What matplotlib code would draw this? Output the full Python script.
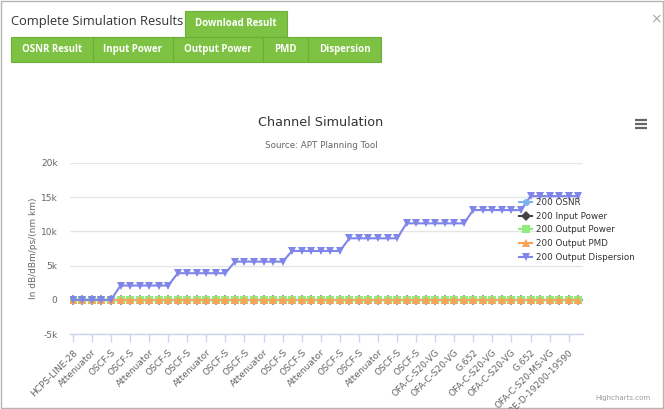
import matplotlib
matplotlib.use("Agg")
import matplotlib.pyplot as plt
from matplotlib.patches import Rectangle

W, H = 664, 409

# ---------------- data ----------------
tick_labels = ["HCPS-LINE-28", "Attenuator", "OSCF-S", "OSCF-S", "Attenuator", "OSCF-S", "OSCF-S",
               "Attenuator", "OSCF-S", "OSCF-S", "Attenuator", "OSCF-S", "OSCF-S", "Attenuator",
               "OSCF-S", "OSCF-S", "Attenuator", "OSCF-S", "OSCF-S", "OFA-C-S20-VG", "OFA-C-S20-VG",
               "G.652", "OFA-C-S20-VG", "OFA-C-S20-VG", "G.652", "OFA-C-S20-MS-VG",
               "OADM40E-D-19200-19590"]

dispersion = [0, 0, 0, 0, 0,
              2085, 2085, 2085, 2085, 2085, 2085,
              3890, 3890, 3890, 3890, 3890, 3890,
              5580, 5580, 5580, 5580, 5580, 5580,
              7140, 7140, 7140, 7140, 7140, 7140,
              8990, 8990, 8990, 8990, 8990, 8990,
              11180, 11180, 11180, 11180, 11180, 11180, 11180,
              13120, 13120, 13120, 13120, 13120, 13120,
              15160, 15160, 15160, 15160, 15160, 15160]
n_points = len(dispersion)
osnr = [0] * n_points
input_power = [0] * n_points
output_power = [0] * n_points
output_pmd = [0] * n_points

series_names = ["200 OSNR", "200 Input Power", "200 Output Power", "200 Output PMD", "200 Output Dispersion"]
colors = ["#7cb5ec", "#434348", "#90ed7d", "#f7a35c", "#8085e9"]
markers = ["o", "D", "s", "^", "v"]
series = [osnr, input_power, output_power, output_pmd, dispersion]

y_ticks = [-5000, 0, 5000, 10000, 15000, 20000]
y_tick_labels = ["-5k", "0", "5k", "10k", "15k", "20k"]

buttons = ["OSNR Result", "Input Power", "Output Power", "PMD", "Dispersion"]
button_edges = [11, 93, 173, 263, 308, 381]

# ---------------- figure ----------------
fig = plt.figure(figsize=(W / 100, H / 100), dpi=100)
fig.patch.set_facecolor("white")

def px(x, y):
    return x / W, 1 - y / H

ui = fig.add_axes([0, 0, 1, 1], zorder=0)
ui.set_xlim(0, W)
ui.set_ylim(H, 0)
ui.axis("off")

ui.add_patch(Rectangle((0.5, 0.5), W - 2, H - 2, fill=False, edgecolor="#b5b5b5", lw=1))
ui.text(656, 19, "×", fontsize=10, color="#aaaaaa", ha="center", va="center", family="DejaVu Sans")

ui.text(11, 22, "Complete Simulation Results", fontsize=9.3, color="#333333",
        ha="left", va="center", family="Open Sans")

green = "#7dc242"
edge = "#6cae39"
ui.add_patch(Rectangle((185, 11), 102, 26, facecolor=green, edgecolor=edge, lw=0.8))
ui.text(236, 24, "Download Result", fontsize=7.0, color="white", weight="bold",
        ha="center", va="center", family="Open Sans")
for i, b in enumerate(buttons):
    x0, x1 = button_edges[i], button_edges[i + 1]
    ui.add_patch(Rectangle((x0, 37), x1 - x0, 25, facecolor=green, edgecolor=edge, lw=0.8))
    ui.text((x0 + x1) / 2, 49.5, b, fontsize=7.0, color="white", weight="bold",
            ha="center", va="center", family="Open Sans")

ui.text(321, 123, "Channel Simulation", fontsize=9.2, color="#333333", ha="center", va="center",
        family="DejaVu Sans")
ui.text(321, 145, "Source: APT Planning Tool", fontsize=6.3, color="#666666", ha="center", va="center",
        family="DejaVu Sans")
for yy in (120, 124, 128):
    ui.plot([635, 647], [yy, yy], color="#666666", lw=1.6, solid_capstyle="butt")
ui.text(650, 398, "Highcharts.com", fontsize=5, color="#999999", ha="right", va="center",
        family="DejaVu Sans")

# ---------------- chart ----------------
left, right, top, bottom = 70, 583, 163, 334
ax = fig.add_axes([left / W, 1 - bottom / H, (right - left) / W, (bottom - top) / H], zorder=2)
ax.patch.set_alpha(0)
x = list(range(n_points))
msizes = [5, 5, 5.5, 5.5, 5.2]
for vals, name, c, m, ms in zip(series, series_names, colors, markers, msizes):
    ax.plot(x, vals, color=c, marker=m, markersize=ms, lw=1.5, label=name, markeredgewidth=0)

ax.set_xlim(-0.3, n_points - 0.5)
ax.set_ylim(-5000, 20000)
ax.set_yticks(y_ticks)
ax.set_yticklabels(y_tick_labels)
ax.set_xticks(list(range(0, n_points, 2))[:len(tick_labels)])
ax.set_xticklabels(tick_labels, rotation=45, ha="right", rotation_mode="anchor")
ax.grid(axis="y", color="#e6e6e6", lw=1)
ax.set_axisbelow(True)
for s in ("top", "right", "left"):
    ax.spines[s].set_visible(False)
ax.spines["bottom"].set_color("#ccd6eb")
ax.spines["bottom"].set_linewidth(1)
ax.tick_params(axis="y", length=0, labelsize=6.5, labelcolor="#666666", pad=9)
ax.tick_params(axis="x", length=6, color="#ccd6eb", width=1, labelsize=6.5,
               labelcolor="#666666", pad=4)
for t in ax.get_xticklabels() + ax.get_yticklabels():
    t.set_family("DejaVu Sans")
ax.set_ylabel("In dB/dBm/ps/(nm km)", fontsize=6.5, color="#666666", family="DejaVu Sans")
ax.yaxis.set_label_coords(-0.062, 0.5)

leg = ax.legend(loc="upper left", bbox_to_anchor=(px(519, 198)), bbox_transform=fig.transFigure,
                frameon=False, fontsize=6.3, handlelength=1.5, handletextpad=0.4, labelspacing=0.54,
                borderpad=0, borderaxespad=0)
for t in leg.get_texts():
    t.set_color("#333333")
    t.set_family("DejaVu Sans")

fig.savefig("out.png", dpi=100, facecolor="white")
